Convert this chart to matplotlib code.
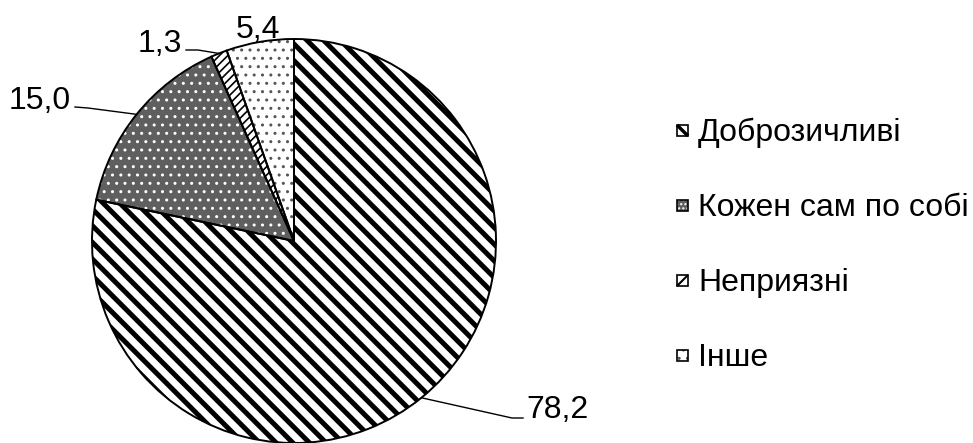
import numpy as np
import matplotlib
matplotlib.use("Agg")
import matplotlib.pyplot as plt
import matplotlib.patches as mpatches
from matplotlib.lines import Line2D

plt.rcParams['font.family'] = ['Liberation Sans', 'DejaVu Sans']

categories = ["Доброзичливі", "Кожен сам по собі", "Неприязні", "Інше"]
values = [78.2, 15.0, 1.3, 5.4]
value_labels = ["78,2", "15,0", "1,3", "5,4"]

faces = ["white", "#5f5f5f", "white", "white"]
hatch_colors = ["black", "white", "black", "#555555"]
hatches = ["\\\\", "..", "////", ".."]
hatch_widths = [3.6, 1.0, 1.2, 1.0]

W, H = 973, 443
fig = plt.figure(figsize=(W / 100, H / 100), dpi=100)

# pie centre (294, 241) px, radius 202 px
cx, cy, r = 294, 241, 202
lim = 1.1
ax = fig.add_axes([(cx - r * lim) / W, (H - cy - r * lim) / H, 2 * r * lim / W, 2 * r * lim / H])


def set_hw(p, w):
    if hasattr(p, "set_hatch_linewidth"):
        p.set_hatch_linewidth(w)
    else:
        p._hatch_linewidth = w


wedges, _ = ax.pie(values, startangle=90, counterclock=False, radius=1,
                   wedgeprops=dict(linewidth=0))
for w, fc, hc, h, hw in zip(wedges, faces, hatch_colors, hatches, hatch_widths):
    w.set_facecolor(fc)
    w.set_edgecolor(hc)
    w.set_hatch(h)
    set_hw(w, hw)
    w.set_clip_on(False)

outl, _ = ax.pie(values, startangle=90, counterclock=False, radius=1,
                 wedgeprops=dict(fill=False, edgecolor="black", linewidth=1.4))
for w in outl:
    w.set_clip_on(False)

ax.set_xlim(-lim, lim)
ax.set_ylim(-lim, lim)
ax.set_aspect("equal")
ax.axis("off")


def px(x, y):
    return (x - cx) / r, (cy - y) / r


def edge(i):
    w = wedges[i]
    a = np.deg2rad((w.theta1 + w.theta2) / 2)
    return np.cos(a), np.sin(a)


fs = 23
# 78,2
ex, ey = edge(0)
p1 = px(512, 418); p2 = px(523, 418)
ax.plot([ex, p1[0], p2[0]], [ey, p1[1], p2[1]], color="black", lw=1, clip_on=False)
t = px(526, 418)
ax.text(t[0], t[1], value_labels[0], fontsize=fs, ha="left", va="baseline")

# 15,0
ex, ey = edge(1)
p1 = px(88, 108); p2 = px(75, 107)
ax.plot([ex, p1[0], p2[0]], [ey, p1[1], p2[1]], color="black", lw=1, clip_on=False)
t = px(71, 109)
ax.text(t[0], t[1], value_labels[1], fontsize=fs, ha="right", va="baseline")

# 1,3
ex, ey = edge(2)
p1 = px(198, 50); p2 = px(186, 50)
ax.plot([ex, p1[0], p2[0]], [ey, p1[1], p2[1]], color="black", lw=1, clip_on=False)
t = px(182, 52)
ax.text(t[0], t[1], value_labels[2], fontsize=fs, ha="right", va="baseline")

# 5,4
t = px(258, 38)
ax.text(t[0], t[1], value_labels[3], fontsize=fs, ha="center", va="baseline")

# legend
leg_hatch = [None, "....", None, ".."]
baselines = [141, 216, 291, 366]
sx, s = 677, 11
for i, (name, fc, hc, h, b) in enumerate(zip(categories, faces, hatch_colors, leg_hatch, baselines)):
    x0, y0 = sx / W, (H - b + 5) / H
    sq = mpatches.Rectangle((x0, y0), s / W, s / H, transform=fig.transFigure,
                            facecolor=fc, edgecolor=hc, hatch=h, linewidth=0)
    fig.patches.append(sq)
    if i == 0:
        fig.lines.append(Line2D([x0, x0 + s / W], [y0 + s / H, y0], transform=fig.transFigure,
                                color="black", lw=2.5, solid_capstyle="butt"))
    if i == 2:
        fig.lines.append(Line2D([x0, x0 + s / W], [y0, y0 + s / H], transform=fig.transFigure,
                                color="black", lw=1.5, solid_capstyle="butt"))
    fig.patches.append(mpatches.Rectangle((x0, y0), s / W, s / H, transform=fig.transFigure,
                                          fill=False, edgecolor="black", linewidth=1.2))
    fig.text(698 / W, (H - b) / H, name, fontsize=fs, ha="left", va="baseline")

fig.savefig("out.png", dpi=100)
